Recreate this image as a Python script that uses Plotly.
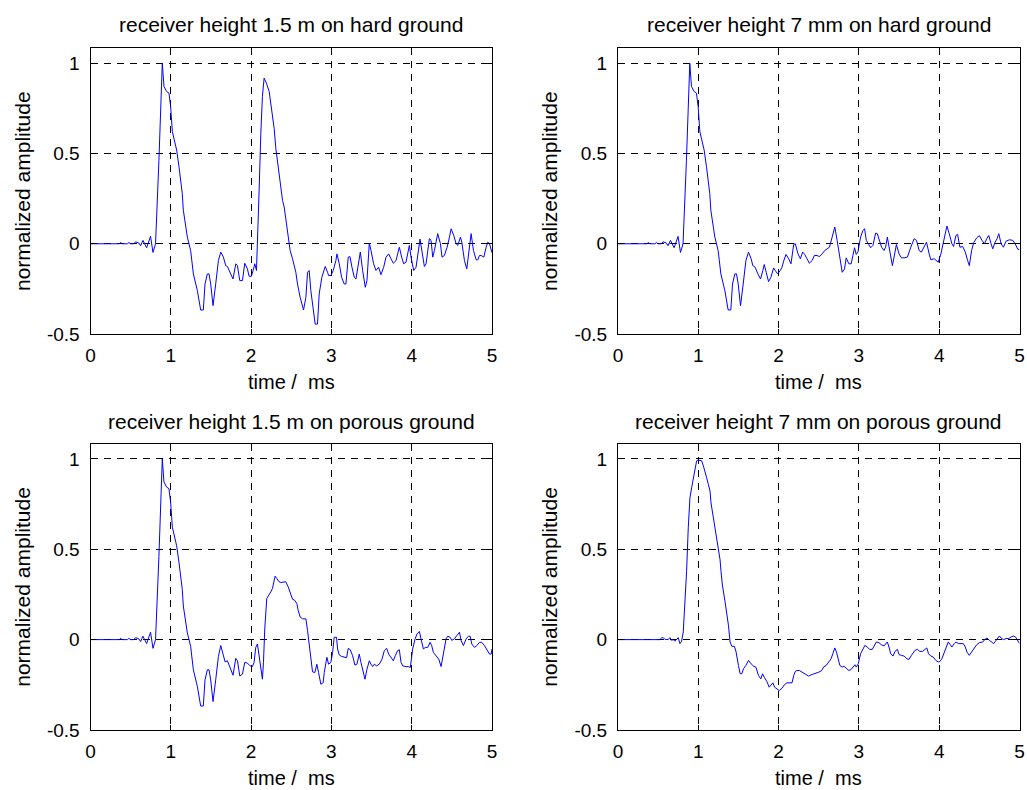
import plotly.graph_objects as go

# ---------------- data (time in ms, normalized amplitude) ----------------
# direct pulse shared by the first three recordings (0 .. 1.6 ms)
direct_t = [0.0, 0.36, 0.374, 0.395, 0.46, 0.478, 0.499, 0.54, 0.561, 0.603, 0.624, 0.653,
            0.699, 0.748, 0.778, 0.802, 0.81, 0.852, 0.884, 0.894, 0.915, 0.948, 0.977, 0.998,
            1.019, 1.040, 1.073, 1.102, 1.143, 1.156, 1.206, 1.247, 1.281, 1.331, 1.372, 1.405,
            1.426, 1.455, 1.476, 1.497, 1.526, 1.559, 1.593]
direct_v = [0.0, 0.0, 0.007, 0.0, 0.0, 0.007, 0.0, 0.0, 0.011, 0.004, -0.011, 0.019,
            -0.022, 0.041, -0.048, -0.009, 0.0, 0.46, 0.9, 1.0, 0.872, 0.844, 0.835, 0.761,
            0.622, 0.584, 0.519, 0.427, 0.278, 0.186, 0.037, -0.037, -0.167, -0.260, -0.367, -0.367,
            -0.223, -0.167, -0.167, -0.223, -0.343, -0.223, -0.093]

# receiver 1.5 m, hard ground (continuation after 1.6 ms)
hard15_t = [1.622, 1.655, 1.684, 1.705, 1.746, 1.775, 1.809, 1.830, 1.859, 1.892,
            1.921, 1.954, 1.975, 2.004, 2.025, 2.046, 2.067, 2.079, 2.100, 2.121,
            2.141, 2.162, 2.191, 2.225, 2.245, 2.266, 2.287, 2.308, 2.328, 2.349,
            2.370, 2.391, 2.412, 2.432, 2.453, 2.486, 2.516, 2.557, 2.578, 2.611,
            2.653, 2.682, 2.703, 2.723, 2.744, 2.778, 2.798, 2.827, 2.848, 2.881,
            2.923, 2.952, 2.965, 2.994, 3.023, 3.056, 3.069, 3.098, 3.127, 3.160,
            3.181, 3.210, 3.231, 3.256, 3.285, 3.306, 3.339, 3.360, 3.389, 3.422,
            3.443, 3.472, 3.493, 3.526, 3.555, 3.588, 3.617, 3.651, 3.680, 3.713,
            3.742, 3.771, 3.805, 3.846, 3.875, 3.900, 3.929, 3.971, 3.992, 4.025,
            4.054, 4.075, 4.104, 4.116, 4.158, 4.179, 4.200, 4.220, 4.241, 4.262,
            4.283, 4.324, 4.358, 4.378, 4.407, 4.441, 4.470, 4.491, 4.524, 4.553,
            4.574, 4.607, 4.624, 4.657, 4.686, 4.711, 4.740, 4.769, 4.803, 4.823,
            4.844, 4.865, 4.898, 4.927, 4.948, 4.969, 4.990, 5.0]
hard15_v = [-0.046, -0.074, -0.121, -0.126, -0.167, -0.195, -0.111, -0.121, -0.204, -0.204,
            -0.108, -0.139, -0.180, -0.180, -0.148, -0.111, -0.148, -0.019, 0.297, 0.612,
            0.816, 0.918, 0.890, 0.844, 0.779, 0.705, 0.640, 0.529, 0.464, 0.390,
            0.315, 0.241, 0.204, 0.130, 0.074, -0.037, -0.083, -0.158, -0.223, -0.297,
            -0.367, -0.297, -0.158, -0.148, -0.260, -0.371, -0.445, -0.445, -0.278, -0.186,
            -0.126, -0.158, -0.176, -0.176, -0.148, -0.093, -0.056, -0.111, -0.186, -0.223,
            -0.223, -0.074, -0.071, -0.130, -0.186, -0.195, -0.111, -0.046, -0.148, -0.241,
            -0.204, 0.004, -0.037, -0.111, -0.148, -0.130, -0.171, -0.130, -0.074, -0.056,
            -0.083, -0.108, -0.093, -0.019, -0.074, -0.111, -0.102, -0.009, -0.074, -0.148,
            -0.130, -0.074, 0.026, -0.009, -0.126, -0.111, -0.037, 0.028, 0.019, -0.074,
            -0.037, 0.056, 0.0, -0.074, -0.065, -0.019, 0.037, 0.083, 0.046, 0.0,
            -0.009, 0.037, 0.009, -0.093, -0.139, -0.056, 0.056, -0.037, -0.089, -0.089,
            -0.065, -0.065, -0.074, -0.019, 0.009, 0.0, -0.028, -0.05]

# receiver 7 mm, hard ground (continuation after 1.6 ms)
hard7_t = [1.625, 1.658, 1.679, 1.708, 1.742, 1.775, 1.804, 1.821, 1.846, 1.875,
           1.904, 1.938, 1.958, 1.988, 2.021, 2.042, 2.063, 2.092, 2.125, 2.154,
           2.188, 2.208, 2.242, 2.271, 2.300, 2.325, 2.354, 2.383, 2.417, 2.446,
           2.479, 2.508, 2.542, 2.575, 2.604, 2.633, 2.667, 2.700, 2.729, 2.758,
           2.792, 2.821, 2.842, 2.875, 2.904, 2.925, 2.946, 2.967, 2.988, 3.021,
           3.050, 3.071, 3.092, 3.117, 3.146, 3.175, 3.208, 3.229, 3.258, 3.283,
           3.313, 3.333, 3.354, 3.383, 3.417, 3.438, 3.467, 3.500, 3.529, 3.563,
           3.604, 3.646, 3.688, 3.717, 3.750, 3.779, 3.813, 3.842, 3.875, 3.896,
           3.938, 3.958, 3.988, 4.021, 4.063, 4.096, 4.125, 4.158, 4.179, 4.208,
           4.229, 4.258, 4.292, 4.325, 4.354, 4.375, 4.404, 4.429, 4.467, 4.500,
           4.533, 4.563, 4.592, 4.617, 4.646, 4.667, 4.696, 4.721, 4.742, 4.771,
           4.800, 4.833, 4.875, 4.917, 4.946, 4.979, 5.0]
hard7_v = [-0.046, -0.083, -0.121, -0.130, -0.167, -0.195, -0.148, -0.115, -0.158, -0.210,
           -0.186, -0.134, -0.148, -0.167, -0.148, -0.130, -0.096, -0.059, -0.083, -0.111,
           -0.004, 0.0, -0.056, -0.083, -0.046, -0.059, -0.083, -0.108, -0.093, -0.065,
           -0.065, -0.071, -0.056, -0.037, -0.028, -0.019, 0.037, 0.093, 0.019, -0.074,
           -0.158, -0.139, -0.078, -0.111, -0.111, -0.065, -0.022, -0.059, -0.046, 0.037,
           0.074, 0.083, 0.019, 0.0, -0.022, -0.009, 0.059, 0.056, 0.019, -0.019,
           -0.037, -0.019, 0.037, -0.037, -0.121, -0.074, -0.004, -0.056, -0.078, -0.078,
           -0.074, -0.019, 0.028, 0.019, -0.037, -0.046, -0.019, 0.009, -0.056, -0.089,
           -0.083, -0.089, -0.102, -0.056, 0.037, 0.098, 0.056, 0.0, -0.015, 0.046,
           0.052, -0.019, -0.015, -0.046, -0.093, -0.121, -0.037, 0.006, 0.033, 0.045,
           0.019, 0.0, 0.028, 0.046, 0.0, -0.028, 0.009, 0.028, 0.056, 0.0,
           -0.019, 0.015, 0.022, 0.019, 0.0, -0.030, -0.033]

# receiver 1.5 m, porous ground (continuation after 1.6 ms)
porous15_t = [1.622, 1.655, 1.676, 1.705, 1.726, 1.775, 1.809, 1.830, 1.859, 1.892,
              1.921, 1.954, 1.988, 2.017, 2.037, 2.058, 2.079, 2.100, 2.121, 2.141,
              2.154, 2.170, 2.195, 2.225, 2.245, 2.266, 2.287, 2.299, 2.320, 2.349,
              2.370, 2.403, 2.432, 2.462, 2.495, 2.516, 2.545, 2.570, 2.586, 2.611,
              2.640, 2.682, 2.703, 2.723, 2.744, 2.765, 2.794, 2.819, 2.840, 2.869,
              2.898, 2.911, 2.944, 2.965, 2.994, 3.015, 3.035, 3.064, 3.077, 3.098,
              3.127, 3.160, 3.189, 3.210, 3.235, 3.264, 3.293, 3.318, 3.347, 3.368,
              3.397, 3.418, 3.443, 3.472, 3.493, 3.514, 3.534, 3.563, 3.597, 3.630,
              3.659, 3.688, 3.713, 3.742, 3.771, 3.796, 3.825, 3.846, 3.867, 3.888,
              3.929, 3.958, 3.983, 4.012, 4.042, 4.067, 4.096, 4.116, 4.146, 4.170,
              4.200, 4.229, 4.249, 4.270, 4.304, 4.337, 4.366, 4.395, 4.428, 4.449,
              4.478, 4.499, 4.532, 4.561, 4.595, 4.615, 4.644, 4.678, 4.707, 4.728,
              4.748, 4.782, 4.811, 4.844, 4.873, 4.906, 4.936, 4.969, 4.990, 5.0]
porous15_v = [-0.033, -0.080, -0.123, -0.117, -0.145, -0.197, -0.104, -0.117, -0.201, -0.191,
              -0.126, -0.130, -0.145, -0.149, -0.126, -0.043, -0.024, -0.089, -0.182, -0.219,
              -0.126, 0.059, 0.227, 0.255, 0.264, 0.283, 0.320, 0.351, 0.338, 0.320,
              0.316, 0.320, 0.320, 0.292, 0.255, 0.223, 0.217, 0.199, 0.162, 0.125,
              0.115, 0.115, 0.050, -0.033, -0.126, -0.178, -0.182, -0.136, -0.182, -0.247,
              -0.238, -0.182, -0.098, -0.136, -0.126, -0.071, 0.013, 0.013, -0.052, -0.085,
              -0.093, -0.098, -0.100, -0.048, -0.056, -0.089, -0.141, -0.136, -0.080, -0.126,
              -0.182, -0.219, -0.164, -0.117, -0.136, -0.149, -0.136, -0.145, -0.136, -0.108,
              -0.061, -0.048, -0.080, -0.102, -0.117, -0.089, -0.061, -0.056, -0.126, -0.145,
              -0.150, -0.149, -0.154, -0.052, 0.004, 0.032, 0.045, 0.004, -0.052, -0.043,
              -0.043, -0.015, -0.033, -0.071, -0.089, -0.108, -0.149, -0.071, 0.004, 0.019,
              0.013, -0.004, 0.004, 0.022, 0.041, -0.005, -0.033, 0.004, 0.019, 0.019,
              -0.024, -0.043, -0.033, -0.015, -0.015, -0.033, -0.056, -0.080, -0.080, -0.052]

# receiver 7 mm, porous ground (full record)
porous7_t = [0.0, 0.521, 0.542, 0.563, 0.583, 0.604, 0.625, 0.646, 0.667, 0.688,
             0.708, 0.729, 0.750, 0.771, 0.792, 0.813, 0.833, 0.854, 0.875, 0.896,
             0.917, 0.938, 0.958, 0.979, 1.000, 1.021, 1.042, 1.063, 1.083, 1.104,
             1.125, 1.146, 1.158, 1.188, 1.208, 1.229, 1.250, 1.271, 1.283, 1.300,
             1.333, 1.354, 1.375, 1.396, 1.417, 1.450, 1.471, 1.500, 1.521, 1.542,
             1.563, 1.592, 1.625, 1.658, 1.688, 1.717, 1.750, 1.779, 1.800, 1.821,
             1.854, 1.883, 1.908, 1.929, 1.950, 1.979, 2.008, 2.042, 2.071, 2.104,
             2.133, 2.167, 2.188, 2.208, 2.229, 2.258, 2.292, 2.321, 2.354, 2.375,
             2.404, 2.438, 2.471, 2.500, 2.533, 2.563, 2.592, 2.625, 2.654, 2.675,
             2.700, 2.721, 2.742, 2.763, 2.792, 2.813, 2.842, 2.875, 2.904, 2.925,
             2.950, 2.967, 2.992, 3.021, 3.050, 3.075, 3.104, 3.133, 3.167, 3.196,
             3.217, 3.250, 3.279, 3.313, 3.333, 3.354, 3.375, 3.396, 3.425, 3.450,
             3.479, 3.500, 3.529, 3.563, 3.596, 3.625, 3.654, 3.679, 3.700, 3.729,
             3.758, 3.792, 3.821, 3.846, 3.867, 3.896, 3.925, 3.958, 3.988, 4.008,
             4.033, 4.063, 4.092, 4.113, 4.138, 4.158, 4.188, 4.208, 4.242, 4.271,
             4.300, 4.325, 4.346, 4.375, 4.404, 4.438, 4.467, 4.500, 4.521, 4.542,
             4.571, 4.596, 4.625, 4.654, 4.679, 4.700, 4.729, 4.750, 4.771, 4.800,
             4.833, 4.867, 4.896, 4.925, 4.950, 4.979, 5.0]
porous7_v = [0.0, 0.0, 0.009, 0.011, 0.002, 0.0, 0.0, 0.011, -0.004, 0.0,
             -0.009, 0.0, 0.011, -0.022, -0.009, 0.043, 0.191, 0.377, 0.618, 0.785,
             0.840, 0.896, 0.952, 0.989, 0.994, 0.993, 0.989, 0.961, 0.933, 0.896,
             0.859, 0.822, 0.757, 0.673, 0.618, 0.562, 0.506, 0.442, 0.377, 0.302,
             0.210, 0.154, 0.080, -0.013, -0.037, -0.037, -0.069, -0.143, -0.189, -0.189,
             -0.161, -0.143, -0.115, -0.134, -0.147, -0.152, -0.199, -0.217, -0.189, -0.208,
             -0.232, -0.263, -0.250, -0.239, -0.263, -0.273, -0.282, -0.269, -0.250, -0.239,
             -0.239, -0.239, -0.199, -0.176, -0.171, -0.171, -0.180, -0.189, -0.199, -0.202,
             -0.195, -0.191, -0.184, -0.180, -0.173, -0.150, -0.143, -0.124, -0.106, -0.078,
             -0.046, -0.069, -0.106, -0.143, -0.152, -0.147, -0.158, -0.171, -0.165, -0.152,
             -0.139, -0.152, -0.134, -0.078, -0.050, -0.032, -0.041, -0.054, -0.054, -0.032,
             -0.013, -0.017, -0.028, -0.035, -0.022, -0.013, -0.041, -0.078, -0.091, -0.065,
             -0.054, -0.083, -0.087, -0.091, -0.106, -0.109, -0.087, -0.072, -0.059, -0.054,
             -0.065, -0.065, -0.054, -0.046, -0.078, -0.091, -0.096, -0.115, -0.124, -0.121,
             -0.106, -0.069, -0.032, -0.013, -0.028, -0.041, -0.022, -0.013, -0.022, -0.022,
             -0.022, -0.041, -0.069, -0.087, -0.069, -0.046, -0.028, -0.017, -0.013, -0.013,
             0.002, 0.009, -0.004, -0.013, -0.022, -0.009, 0.009, 0.020, 0.009, 0.0,
             0.006, 0.006, 0.015, 0.020, 0.015, -0.004, -0.022]

titles = ["receiver height 1.5 m on hard ground",
          "receiver height 7 mm on hard ground",
          "receiver height 1.5 m on porous ground",
          "receiver height 7 mm on porous ground"]
x_label = "time /\u00a0 ms"
y_label = "normalized amplitude"
x_ticks = [0, 1, 2, 3, 4, 5]
y_ticks = [-0.5, 0, 0.5, 1]
y_tick_text = ["-0.5", "0", "0.5", "1"]

series = [
    (direct_t + hard15_t, direct_v + hard15_v),
    (direct_t + hard7_t, direct_v + hard7_v),
    (direct_t + porous15_t, direct_v + porous15_v),
    (porous7_t, porous7_v),
]

# ---------------- layout ----------------
W, H = 1027, 790
FONT = "Arial, Liberation Sans, sans-serif"
x_domains = [[90.5 / W, 492 / W], [618 / W, 1019.5 / W]]
y_domains = [[1 - 334 / H, 1 - 48 / H], [1 - 730 / H, 1 - 443.5 / H]]

fig = go.Figure()
annotations = []
for i, (tx, vy) in enumerate(series):
    r, c = divmod(i, 2)
    n = "" if i == 0 else str(i + 1)
    fig.add_trace(go.Scatter(x=tx, y=vy, mode="lines",
                             line=dict(color="#0000FF", width=1),
                             xaxis="x" + n, yaxis="y" + n, showlegend=False,
                             hoverinfo="skip"))
    common = dict(showline=True, linecolor="black", linewidth=1, mirror="ticks",
                  ticks="inside", ticklen=5, tickcolor="black", tickwidth=1,
                  showgrid=True, gridcolor="black", gridwidth=1, griddash="7px,6px",
                  zeroline=False, automargin=False,
                  tickfont=dict(family=FONT, size=19, color="black"))
    fig.update_layout(**{
        "xaxis" + n: dict(domain=x_domains[c], range=[0, 5], tickvals=x_ticks,
                          anchor="y" + n, ticklabelstandoff=4, **common),
        "yaxis" + n: dict(domain=y_domains[r], range=[-0.5, 1.085], tickvals=y_ticks,
                          ticktext=y_tick_text, anchor="x" + n, ticklabelstandoff=6,
                          **common),
    })
    xc = (x_domains[c][0] + x_domains[c][1]) / 2
    yc = (y_domains[r][0] + y_domains[r][1]) / 2
    title_y = [25, 422][r]
    xlab_bottom = [394, 790][r]
    ylab_x = [23, 550][c]
    annotations.append(dict(text=titles[i], x=xc, y=1 - title_y / H, xref="paper", yref="paper",
                            xanchor="center", yanchor="middle", showarrow=False,
                            font=dict(family=FONT, size=21, color="black")))
    annotations.append(dict(text=x_label, x=xc, y=1 - xlab_bottom / H, xref="paper", yref="paper",
                            xanchor="center", yanchor="bottom", showarrow=False, borderpad=0,
                            font=dict(family=FONT, size=20, color="black")))
    annotations.append(dict(text=y_label, x=ylab_x / W, y=yc, xref="paper", yref="paper",
                            xanchor="center", yanchor="middle", showarrow=False, textangle=-90,
                            font=dict(family=FONT, size=21, color="black")))

fig.update_layout(template="none", width=W, height=H, margin=dict(l=0, r=0, t=0, b=0, pad=0),
                  paper_bgcolor="white", plot_bgcolor="white",
                  annotations=annotations, showlegend=False)

fig.write_html("out.html")
